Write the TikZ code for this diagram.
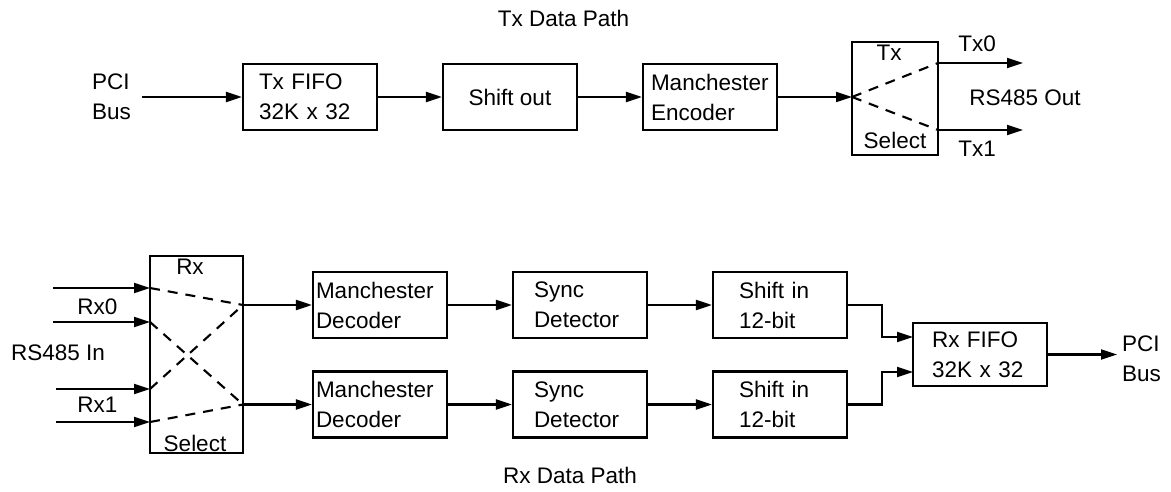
\documentclass[tikz,border=0pt]{standalone}
\usepackage{fontspec}
\setmainfont{Liberation Sans}
\usetikzlibrary{arrows.meta}

\begin{document}
\begin{tikzpicture}[x = 1pt, y = -1pt, line width = 2.1pt, font = \fontsize{22.5}{30}\selectfont]
\tikzstyle{BlockStyle}=[
draw,
minimum width = 134pt,
minimum height = 66pt,
inner sep = 0pt,
align = left]
\tikzstyle{SelStyle}=[draw, inner sep = 0pt]
\tikzstyle{LabelStyle}=[inner sep = 0pt, align = left]
\tikzstyle{wire}=[-{Triangle[length = 16pt, width = 10pt]}]
\tikzstyle{cross}=[dash pattern = on 10pt off 8pt]
\useasboundingbox (0,0) rectangle (1171,492);
% Tx side
\node[LabelStyle] (txtitle) at (563.5,18.5) {Tx Data Path};
\node[LabelStyle, anchor = west] (pciin) at (91,97) {PCI\\Bus};
\node[BlockStyle, inner xsep = 16pt, text width = 102pt] (txfifo) at (310,97) {Tx FIFO\\32K x 32};
\node[BlockStyle, align = center] (shout) at (510,97) {Shift out};
\node[BlockStyle, inner xsep = 8pt, text width = 118pt] (enc) at (710,97) {Manchester\\Encoder};
\node[SelStyle, minimum width = 86pt, minimum height = 113pt] (txsel) at (895,98.5) {};
\node[LabelStyle] (txsellab) at (889,52.5) {Tx};
\node[LabelStyle] (txselbot) at (895,140) {Select};
\node[LabelStyle] (tx0lab) at (977,43.5) {Tx0};
\node[LabelStyle] (tx1lab) at (977,148.5) {Tx1};
\node[LabelStyle] (rsout) at (1025,97.5) {RS485 Out};
\coordinate (pcisrc) at (142,97);
\coordinate (txin) at (852,97);
\coordinate (tx0) at (938,63);
\coordinate (tx1) at (938,130);
\coordinate (tx0end) at (1023,63);
\coordinate (tx1end) at (1023,130);
\draw[wire] (pcisrc) -- (txfifo);
\draw[wire] (txfifo) -- (shout);
\draw[wire] (shout) -- (enc);
\draw[wire] (enc) -- (txin);
\draw[cross] (txin) -- (tx0);
\draw[cross] (txin) -- (tx1);
\draw[wire] (tx0) -- (tx0end);
\draw[wire] (tx1) -- (tx1end);
% Rx side
\node[LabelStyle] (rxtitle) at (570,475) {Rx Data Path};
\node[SelStyle, minimum width = 93pt, minimum height = 197pt] (rxsel) at (196.5,354.5) {};
\node[LabelStyle] (rxsellab) at (190,267) {Rx};
\node[LabelStyle] (rxselbot) at (195,443) {Select};
\node[LabelStyle] (rx0lab) at (97.5,306.5) {Rx0};
\node[LabelStyle] (rx1lab) at (97.5,405) {Rx1};
\node[LabelStyle, anchor = east] (rsin) at (106,353) {RS485 In};
\node[BlockStyle, inner xsep = 3pt, text width = 128pt] (dec0) at (380,305) {Manchester\\Decoder};
\node[BlockStyle, inner xsep = 3pt, text width = 128pt] (dec1) at (380,404.5) {Manchester\\Decoder};
\node[BlockStyle, inner xsep = 21pt, text width = 92pt] (sync0) at (580,305) {Sync\\Detector};
\node[BlockStyle, inner xsep = 21pt, text width = 92pt] (sync1) at (580,404.5) {Sync\\Detector};
\node[BlockStyle, inner xsep = 26pt, text width = 82pt] (shin0) at (780,305) {Shift in\\12-bit};
\node[BlockStyle, inner xsep = 26pt, text width = 82pt] (shin1) at (780,404.5) {Shift in\\12-bit};
\node[BlockStyle, minimum height = 63pt, inner xsep = 19pt, text width = 96pt] (rxfifo) at (980,354.5) {Rx FIFO\\32K x 32};
\node[LabelStyle, anchor = west] (pciout) at (1121,359) {PCI\\Bus};
\foreach \n/\xs/\y in {0/53/288, 1/53/322, 2/56/389, 3/56/422}{
  \coordinate (rin\n) at (\xs,\y);
  \coordinate (rsel\n) at (150,\y);
  \draw[wire] (rin\n) -- (rsel\n);
}
\coordinate (rout0) at (243,305);
\coordinate (rout1) at (243,404.5);
\draw[cross] (rsel0) -- (rout0);
\draw[cross] (rsel1) -- (rout1);
\draw[cross] (rsel2) -- (rout0);
\draw[cross] (rsel3) -- (rout1);
\draw[wire] (rout0) -- (dec0);
\draw[wire] (rout1) -- (dec1);
\draw[wire] (dec0) -- (sync0);
\draw[wire] (dec1) -- (sync1);
\draw[wire] (sync0) -- (shin0);
\draw[wire] (sync1) -- (shin1);
\coordinate (rf0) at (913,337);
\coordinate (rf1) at (913,372);
\draw[wire] (shin0.east) -- ++(34,0) |- (rf0);
\draw[wire] (shin1.east) -- ++(34,0) |- (rf1);
\coordinate (pcidst) at (1117,354.5);
\draw[wire] (rxfifo) -- (pcidst);
\end{tikzpicture}
\end{document}
